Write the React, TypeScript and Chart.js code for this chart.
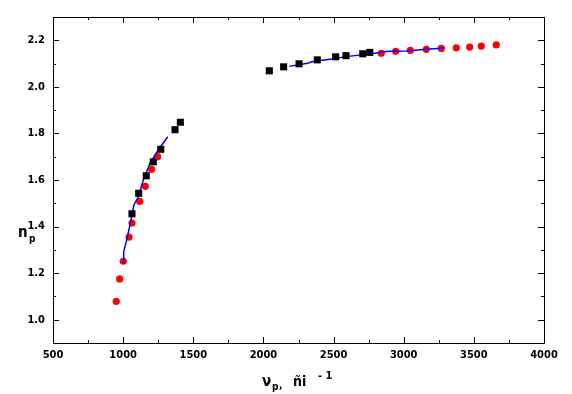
import React, { useEffect, useRef } from "react";
import { Chart, registerables } from "chart.js";

Chart.register(...registerables);

// Red circles (series A)
const redX = [951, 975, 1001, 1042, 1063, 1118, 1158, 1203, 1246, 2840, 2943, 3047, 3161, 3268, 3375, 3470, 3553, 3660];
const redY = [1.079, 1.175, 1.251, 1.355, 1.415, 1.508, 1.573, 1.646, 1.700, 2.144, 2.153, 2.157, 2.161, 2.165, 2.168, 2.171, 2.175, 2.180];

// Black squares (series B)
const blackX = [1063, 1111, 1165, 1215, 1268, 1370, 1408, 2042, 2144, 2254, 2384, 2515, 2589, 2708, 2758];
const blackY = [1.455, 1.543, 1.618, 1.678, 1.732, 1.816, 1.848, 2.069, 2.086, 2.099, 2.116, 2.129, 2.134, 2.142, 2.148];

// Blue fitted curves
const fitLowX = [1001, 1004, 1025, 1049, 1077, 1108, 1144, 1191, 1251, 1318];
const fitLowY = [1.245, 1.292, 1.342, 1.407, 1.493, 1.528, 1.600, 1.672, 1.730, 1.786];
const fitHighX = [2184, 2315, 2344, 2486, 2617, 2760, 2890, 3021, 3164, 3294];
const fitHighY = [2.088, 2.101, 2.108, 2.120, 2.132, 2.141, 2.153, 2.154, 2.161, 2.167];

const xTicks = [500, 1000, 1500, 2000, 2500, 3000, 3500, 4000];
const xMinorTicks = [750, 1250, 1750, 2250, 2750, 3250, 3750];
const yTicks = [1.0, 1.2, 1.4, 1.6, 1.8, 2.0, 2.2];
const yMinorTicks = [1.1, 1.3, 1.5, 1.7, 1.9, 2.1];

const FONT = "'Liberation Sans Narrow', 'DejaVu Sans Condensed', 'Liberation Sans', Arial, sans-serif";

const zip = (xs: number[], ys: number[]) => xs.map((x, i) => ({ x, y: ys[i] }));

const frameTicks = {
  id: "frameTicks",
  afterDatasetsDraw(chart: any) {
    const { ctx, chartArea: a, scales } = chart;
    const xs = scales.x, ys = scales.y;
    ctx.save();
    ctx.strokeStyle = "#000";
    ctx.lineWidth = 1;
    ctx.beginPath();
    ctx.rect(Math.round(a.left) + 0.5, Math.round(a.top) + 0.5, Math.round(a.right - a.left), Math.round(a.bottom - a.top));
    const tx = (v: number, len: number) => {
      const p = Math.round(xs.getPixelForValue(v)) + 0.5;
      ctx.moveTo(p, a.bottom); ctx.lineTo(p, a.bottom - len);
      ctx.moveTo(p, a.top); ctx.lineTo(p, a.top + len);
    };
    const ty = (v: number, len: number) => {
      const p = Math.round(ys.getPixelForValue(v)) + 0.5;
      ctx.moveTo(a.left, p); ctx.lineTo(a.left + len, p);
      ctx.moveTo(a.right, p); ctx.lineTo(a.right - len, p);
    };
    xTicks.forEach((v) => tx(v, 6));
    xMinorTicks.forEach((v) => tx(v, 3));
    yTicks.forEach((v) => ty(v, 6));
    yMinorTicks.forEach((v) => ty(v, 3));
    ctx.stroke();

    // axis titles
    ctx.fillStyle = "#000";
    ctx.textBaseline = "alphabetic";
    ctx.textAlign = "left";
    ctx.font = `bold 15px ${FONT}`;
    ctx.fillText("n", 18, 237);
    ctx.font = `bold 10px ${FONT}`;
    ctx.fillText("p", 29, 242);

    ctx.font = `bold 15px ${FONT}`;
    ctx.fillText("ν", 262, 386);
    ctx.font = `bold 10px ${FONT}`;
    ctx.fillText("p", 272, 390);
    ctx.fillText(",", 279, 388);
    ctx.font = `bold 14px ${FONT}`;
    ctx.fillText("ñi", 293, 386);
    ctx.font = `bold 11px ${FONT}`;
    ctx.fillText("- 1", 318, 379);
    ctx.restore();
  },
};

export default function App() {
  const ref = useRef<HTMLCanvasElement>(null);
  useEffect(() => {
    if (!ref.current) return;
    const chart = new Chart(ref.current, {
      type: "scatter",
      data: {
        datasets: [
          {
            label: "B",
            data: zip(blackX, blackY),
            pointStyle: "rect",
            pointRadius: 5,
            backgroundColor: "#000",
            borderColor: "#000",
            borderWidth: 0,
            order: 0,
          },
          {
            label: "fit1",
            data: zip(fitLowX, fitLowY),
            showLine: true,
            pointRadius: 0,
            borderColor: "#0000ff",
            borderWidth: 1.5,
            order: 1,
          },
          {
            label: "fit2",
            data: zip(fitHighX, fitHighY),
            showLine: true,
            pointRadius: 0,
            borderColor: "#0000ff",
            borderWidth: 1.5,
            order: 1,
          },
          {
            label: "A",
            data: zip(redX, redY),
            pointStyle: "circle",
            pointRadius: 3.6,
            backgroundColor: "#ff0000",
            borderColor: "#ff0000",
            borderWidth: 0,
            order: 2,
          },
        ],
      },
      options: {
        animation: false,
        responsive: false,
        maintainAspectRatio: false,
        layout: { padding: { left: 0, right: 28, top: 17, bottom: 0 } },
        plugins: { legend: { display: false }, tooltip: { enabled: false } },
        scales: {
          x: {
            type: "linear",
            min: 500,
            max: 4000,
            afterBuildTicks: (s: any) => { s.ticks = xTicks.map((v) => ({ value: v })); },
            afterFit: (s: any) => { s.height = 51; },
            grid: { display: false, drawTicks: false },
            border: { display: false },
            ticks: {
              color: "#000",
              font: { family: FONT, size: 11, weight: "bold" },
              padding: 6,
              maxRotation: 0,
              autoSkip: false,
              callback: (v: any) => String(v),
            },
          },
          y: {
            type: "linear",
            min: 0.9,
            max: 2.3,
            afterBuildTicks: (s: any) => { s.ticks = yTicks.map((v) => ({ value: v })); },
            afterFit: (s: any) => { s.width = 53; },
            grid: { display: false, drawTicks: false },
            border: { display: false },
            ticks: {
              color: "#000",
              font: { family: FONT, size: 11, weight: "bold" },
              padding: 8,
              autoSkip: false,
              callback: (v: any) => Number(v).toFixed(1),
            },
          },
        },
      },
      plugins: [frameTicks],
    });
    return () => chart.destroy();
  }, []);
  return (
    <div style={{ position: "fixed", left: 0, top: 0, width: 572, height: 394, background: "#fff" }}>
      <canvas ref={ref} width={572} height={394} style={{ width: 572, height: 394, display: "block" }} />
    </div>
  );
}
